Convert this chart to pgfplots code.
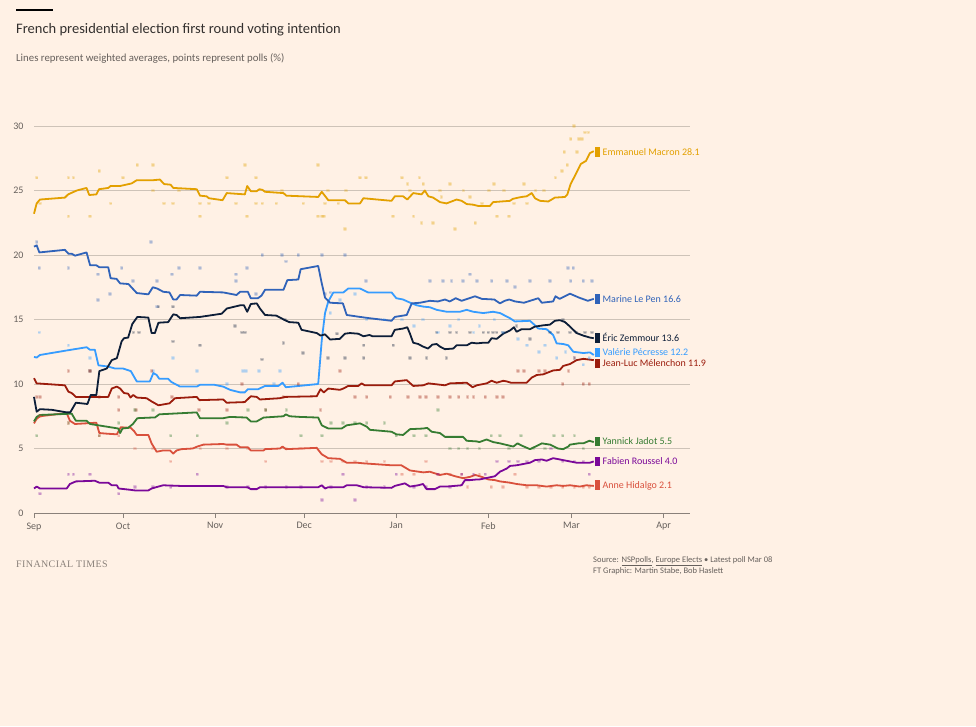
\documentclass[border=0pt]{standalone}
\usepackage{fontspec}
\setmainfont{Carlito}
\newfontfamily\ftserif[LetterSpace=4]{Liberation Serif}
\usepackage{pgfplots}
\pgfplotsset{compat=1.18}
\definecolor{ftbg}{HTML}{FFF1E5}
\definecolor{gridc}{HTML}{CEC3B8}
\definecolor{axisc}{HTML}{8A817A}
\definecolor{tickc}{HTML}{66605C}
\definecolor{titlec}{HTML}{33302E}
\definecolor{cmac}{HTML}{E3A000}
\definecolor{clep}{HTML}{3063B9}
\definecolor{czem}{HTML}{0D1E38}
\definecolor{cpec}{HTML}{369CFF}
\definecolor{cmel}{HTML}{9B1C0C}
\definecolor{cjad}{HTML}{367C32}
\definecolor{crou}{HTML}{7A0899}
\definecolor{chid}{HTML}{D9503C}
\newcommand{\lab}[3]{\node[anchor=base west,inner sep=0pt,yshift=-3.4pt,font=\fontsize{10}{12}\selectfont,text=#1] at (axis cs:188.9,#2) {{\color{#1}\rule[-1.3pt]{4.5pt}{9.5pt}}\hspace{3pt}#3};}
\pgfplotsset{poll/.style={only marks,mark=square*,mark size=0.9pt,opacity=0.22,mark options={draw=none}}}
\begin{document}
\begin{tikzpicture}[x=1pt,y=1pt]
\fill[ftbg] (0,0) rectangle (976,-726);
\fill[black] (16,-9.2) rectangle (53,-11);
\node[anchor=base west,inner sep=0pt,text=titlec,font=\fontsize{14.5}{17}\selectfont] at (16,-33) {French presidential election first round voting intention};
\node[anchor=base west,inner sep=0pt,text=tickc,font=\fontsize{10.8}{12}\selectfont] at (16,-61) {Lines represent weighted averages, points represent polls (\%)};
\node[anchor=base west,inner sep=0pt,text=axisc,font=\ftserif\fontsize{10}{11}\selectfont] at (16,-567) {FINANCIAL TIMES};
\node[anchor=base west,inner sep=0pt,text=tickc,font=\fontsize{8.5}{10}\selectfont] at (593,-562) {Source: \underline{NSPpolls}, \underline{Europe Elects} \textbullet{} Latest poll Mar 08};
\node[anchor=base west,inner sep=0pt,text=tickc,font=\fontsize{8.5}{10}\selectfont] at (593,-573) {FT Graphic: Martin Stabe, Bob Haslett};
\begin{axis}[at={(34pt,-513pt)},anchor=south west,scale only axis,
  width=656pt,height=387pt,xmin=0,xmax=220.9,ymin=0,ymax=30,clip=false,
  axis x line*=bottom,axis y line*=left,
  y axis line style={draw=none},
  x axis line style={draw=axisc,line width=0.8pt,-},
  ytick={0,5,10,15,20,25,30},ytick style={draw=none},
  ymajorgrids,grid style={gridc,line width=0.8pt},
  xtick={0,30,61,91,122,153,181,212},
  xticklabels={Sep,Oct,Nov,Dec,Jan,Feb,Mar,Apr},
  xtick style={draw=axisc,line width=0.8pt},
  major tick length=5pt,tick align=outside,
  tick label style={font=\fontsize{10}{12}\selectfont,text=tickc},
  /pgf/number format/assume math mode=true,
  yticklabel style={xshift=-2pt},
  xticklabel style={yshift=-1pt},
  every axis plot/.append style={line width=1.8pt,line join=round},
  ]
% ---- poll points ----
\addplot[poll,cmac] coordinates {(0.9,26)(2,24)(11.6,26)(13.3,26)(11.6,23)(18.9,23)(22,26.5)(25.8,24)(29.9,26)(34.8,27)(40,27)(40,25)(43.8,24)(46.9,24)(48.8,25)(55.9,24)(55.9,23)(59,24)(64.9,26)(68,24)(71,27)(71.8,23)(74.7,26)(74.7,24)(76.9,24)(81.6,24)(83.6,25)(90.7,24)(95.7,27)(95.7,23)(96.9,23)(97.6,23)(98,24)(99.1,25)(102.5,24)(104.7,22)(105,25)(109.8,26)(111.8,26)(120.8,23)(123.9,26)(125.8,25.5)(126.7,25)(127.8,23)(129.8,26)(131.1,25.5)(130.5,22.5)(134.4,22.5)(136.7,25)(137.2,24.5)(140,25.5)(141.8,22)(144.6,25)(146.9,24.5)(148.6,22.5)(150.9,24)(153.2,25)(154.9,25.5)(156,23)(158.3,25)(160,23)(161.7,24)(165,25.5)(166.1,24)(168.9,25)(171.7,25)(175.6,26)(177.8,26.5)(178.6,28)(179.6,27)(180.7,29)(181.8,30)(182.9,28)(183.5,29)(184.6,29)(185.6,29.5)(186.7,29.5)};
\addplot[poll,clep] coordinates {(0.9,21)(1.8,19)(11.6,19)(21.6,18.5)(21.6,16.5)(25.5,17)(29.5,19)(33.3,18)(39.4,21)(41.5,18)(41.5,16)(46.5,18.5)(48.8,19)(55.9,19)(68,18.5)(68,18)(71.8,19)(74.7,17)(76.9,20)(83.6,20)(84.8,19.5)(89,20)(96.9,20)(98,17)(99.8,17.1)(104.7,20)(111.8,18)(133.3,18)(137.8,18)(140.6,18)(144.5,18)(146.8,18.5)(149.1,18)(154.1,18)(159.2,18)(162,17.5)(167,18)(173.7,18)(179.9,19)(181.6,19)(180.7,18)(185,18)(187.8,18)};
\addplot[poll,czem] coordinates {(18.9,11)(33.5,14)(35.4,14)(41.9,16)(46.9,16)(46.9,13.3)(55.9,13)(67.7,14.5)(70,14)(71,14)(76.7,11.9)(84,13.2)(84.5,15)(90.6,12.4)(99.1,12)(102,13.9)(104.7,12)(111,13)(111,12)(121,13)(126.6,12)(132.2,12)(135.6,14)(138.9,12)(140,14)(142.3,14)(146.8,14)(151.3,14)(153,14)(154.6,14)(155.8,14)(158,14)(162.5,14.5)(167,13.5)(173.7,14)(176.5,14)(178.2,15)(180.4,14)(182.7,14)(185.5,14)(187.8,14)};
\addplot[poll,cpec] coordinates {(1.8,14)(11.6,13)(18.9,12)(40.2,11)(46.9,12)(54.8,11)(64.9,10)(70.3,11)(71.4,11)(75.8,11)(80.8,10)(82.8,11)(99.8,15.5)(103,16.5)(108,17)(112,15)(118,15)(124,15)(128,14.5)(131,15)(136,14)(140,14.5)(143,15)(148,14)(150,14.5)(155,15)(158,14)(163,13.5)(166,13)(170,12.5)(172,13)(176,12)(179,12.5)(182,12)(185,11.5)(187,12)};
\addplot[poll,cmel] coordinates {(0.9,9)(2,9)(11.6,11)(18.9,11)(22,9)(28.5,9)(28.5,8)(34.3,8)(39.6,11)(46.5,9)(55.5,8)(65,8)(70,10)(78,8)(84,9)(89,10)(96.5,8)(103,11)(108,9)(112,9)(120,9)(126,9)(130,9)(132,9)(136,9)(140,9)(143,9)(146,9)(148,9)(152,9)(156,9)(158,9)(163,11)(165,11)(170,11)(172,11)(178,10)(180,11)(182,12)(185,10)(187,10)};
\addplot[poll,cjad] coordinates {(0.9,6)(11.6,7)(22,6)(28.5,7)(34,8)(40,8)(46,6)(55,6)(65,7)(72,8)(78,8)(85,8)(90,6)(97,6)(100,7)(104,7)(108,7)(112,7)(118,7)(122,6)(128,6)(132,6)(136,8)(140,5)(143,5)(146,5)(150,5)(154,6)(157,6)(160,5)(164,6)(168,5)(172,5)(175,6)(178,6)(182,6)(185,5)};
\addplot[poll,chid] coordinates {(2,7.5)(11.6,7)(22,6)(28.5,6)(34,5)(40,5)(46,4)(56,5)(65,5)(72,5)(78,4)(85,5)(90,5)(97,4)(100,4)(104,4)(108,4)(112,4)(118,4)(124,3)(128,3)(132,4)(136,3)(140,3)(144,3)(146,2)(150,3)(154,2)(158,2)(162,3)(166,2)(170,2)(174,2)(178,2)(182,2)(185,2)(187,2)};
\addplot[poll,crou] coordinates {(2,1.5)(11.6,3)(13.3,3)(18.9,3)(28.5,1.5)(34,2)(40,2)(46,2)(55,3)(65,2)(72,2)(78,2)(85,2)(90,2)(96.9,1)(100,2)(104,3)(108,1)(112,2)(118,2)(122,3)(128,2)(132,2)(136,3)(140,2)(144,3)(148,3)(152,3)(156,4)(160,4)(163,4)(166,4)(170,4)(174,5)(178,4)(182,4)(185,4)(187,3)};
% ---- averages ----
\addplot[chid] coordinates {(0,6.95)(0.9,7.3)(2,7.5)(11,7.75)(12.1,7.15)(13.8,6.9)(21,7.0)(22,6.2)(24.5,6.15)(27.9,6.1)(29.2,6.65)(32.6,6.6)(33.7,6.35)(34.6,6.05)(38.5,6.05)(39.6,5.4)(41.3,4.75)(43.5,4.85)(45.8,4.85)(46.9,4.6)(48,4.85)(49.7,4.95)(53.4,5.0)(55,5.15)(57,5.3)(63.7,5.35)(64.9,5.3)(68.2,5.3)(69.4,5.1)(72,5.1)(73,4.85)(77.3,4.85)(77.8,4.95)(82.8,5.0)(83.7,5.15)(84.8,4.95)(95.2,5.05)(96.9,4.55)(99.1,4.25)(103,4.2)(105.3,3.9)(108.7,3.9)(111,3.85)(120.4,3.7)(123.7,3.7)(126.6,3.3)(131.1,3.15)(133.3,3.2)(136.7,2.95)(139,3.05)(141.8,2.85)(144.5,2.7)(146.8,2.8)(148.6,2.95)(150.8,2.8)(153,2.6)(155.2,2.55)(156.9,2.45)(160.3,2.35)(162.5,2.25)(165.9,2.15)(169.3,2.15)(172.6,2.05)(176,2.15)(178.2,2.1)(180.5,2.15)(183.8,2.05)(186,2.15)(188.5,2.1)};
\addplot[crou] coordinates {(0,1.9)(0.9,2.05)(2,1.9)(11,1.9)(12.1,2.25)(14.1,2.45)(20.5,2.5)(22,2.35)(25,2.35)(26.2,2.15)(27.9,2.15)(28.5,1.9)(32.4,1.8)(34,1.75)(38.5,1.75)(39.6,1.9)(41.9,2.05)(43.5,2.15)(49.2,2.1)(55.9,2.1)(63.7,2.1)(64.9,2.0)(71.9,2.0)(73,1.85)(75,1.85)(76.1,2.0)(95.7,2.0)(96.9,2.15)(98,1.9)(99.1,2.0)(104.2,2.0)(105.3,2.15)(108.7,2.15)(111,2.0)(120.4,1.95)(121.5,2.1)(124.9,2.3)(126.6,2.05)(129.4,2.15)(131,2.25)(132.2,1.85)(135,1.85)(136.7,2.05)(139,2.05)(144,2.15)(145.1,2.55)(146.8,2.55)(149.1,2.6)(150,2.6)(155.2,2.85)(156.9,3.2)(159.2,3.45)(160.3,3.65)(162.5,3.7)(164.8,3.8)(167,3.9)(168.7,4.1)(171,4.15)(172.6,4.05)(174.8,4.25)(177.1,4.15)(179.3,4.05)(182.7,3.9)(185,3.9)(187.2,3.9)(188.5,4.0)};
\addplot[cjad] coordinates {(0,7.1)(0.9,7.45)(2,7.6)(12.7,7.7)(14.1,7.15)(17.7,7.15)(18.9,6.9)(28.4,6.55)(29,6.2)(29.8,6.55)(31.7,6.6)(33.3,6.9)(34.8,7.35)(39.6,7.4)(40.7,7.4)(42.2,7.65)(54.8,7.8)(55.9,7.35)(63.7,7.35)(66,7.45)(71.6,7.4)(73,7.1)(75,7.1)(77.3,7.4)(84,7.5)(84.8,7.65)(86.1,7.5)(89.5,7.45)(95.7,7.4)(96.9,6.8)(99.1,6.55)(103.6,6.55)(105.3,6.8)(109.8,6.95)(112,6.7)(113.1,6.45)(120.4,6.3)(122,6.1)(124.3,6.05)(126.6,6.5)(131.1,6.55)(132.4,6.6)(133.9,6.3)(136.7,6.2)(138.4,5.9)(144.5,5.9)(145.7,5.6)(149.1,5.55)(150,5.5)(152.4,5.7)(154.6,5.5)(156.9,5.4)(161.4,5.15)(162.8,5.4)(164.5,5.2)(167,4.95)(169.3,5.2)(171,5.4)(173.8,5.3)(176.4,5.0)(178.2,4.95)(179.9,5.15)(180.5,5.3)(183.3,5.4)(185,5.4)(187,5.6)(188.5,5.5)};
\addplot[cmel] coordinates {(0,10.45)(0.9,10.05)(10.4,9.9)(11.6,9.4)(12.7,9.3)(14.1,9.0)(21,9.0)(25,9.0)(26.2,9.65)(27.9,9.8)(29,9.65)(30.3,9.3)(31.7,9.25)(32.5,8.95)(33.4,9.15)(34.6,8.95)(37.9,8.9)(39.6,8.65)(41.9,8.35)(45.6,8.5)(47.5,8.9)(54.8,9.0)(55.7,8.75)(63.7,8.8)(64.9,8.55)(71,8.6)(73,9.05)(75,9.0)(76.1,8.8)(82.8,8.9)(84.5,9.0)(95.2,9.05)(96.5,9.6)(97.6,9.35)(99.1,9.65)(103,9.55)(104.2,9.65)(105.8,9.85)(109.2,9.85)(110.3,10.05)(111.4,9.9)(120.4,9.9)(121.5,10.2)(125.5,10.3)(127.7,9.85)(131.1,9.9)(132.8,10.05)(138.4,9.9)(140.1,10.05)(145.7,10.1)(147.7,9.75)(149.1,9.9)(152.4,10.05)(154.1,10.25)(155.8,10.1)(158,10.25)(159.2,10.2)(160.6,10.1)(163.5,10.1)(165.9,10.1)(167.6,10.5)(169.3,10.7)(171.5,10.75)(174.8,11.05)(177.1,11.1)(178.2,11.4)(180.5,11.55)(182.7,11.85)(185,11.95)(188.5,11.85)};
\addplot[cpec] coordinates {(0,12.1)(0.9,12.05)(2,12.25)(11,12.6)(17.7,12.85)(18.9,12.65)(20.5,12.65)(21.7,11.45)(25,11.35)(27.3,11.2)(30,11.2)(32.6,11.0)(34.6,10.2)(39,10.2)(40.2,10.85)(41.3,10.7)(42.2,10.4)(45.2,10.4)(46.3,10.15)(49.2,9.8)(54.8,9.8)(56,9.95)(60.5,9.95)(63.7,9.8)(66,9.55)(69.4,9.35)(71,9.35)(72,9.6)(75.5,9.6)(77.8,9.85)(82.3,9.85)(83.7,10.1)(84.8,9.75)(95.7,10.0)(96.9,13.4)(98,15.5)(99.1,16.4)(99.7,16.65)(100.8,17.1)(104.2,17.1)(105.8,17.4)(109.8,17.4)(112.5,17.1)(120.4,17.1)(122,16.65)(124.3,16.55)(125.7,16.4)(127.2,16.25)(128.9,16.1)(131.1,16.0)(133.3,15.95)(135.6,15.75)(139,15.6)(143.4,15.6)(145.7,15.75)(147.9,15.6)(151.3,15.5)(154.6,15.6)(156.9,15.5)(160.3,15.1)(161.9,14.85)(167,14.9)(168.7,14.55)(169.8,14.3)(172.6,14.25)(174.8,13.8)(176,13.15)(178.2,13.1)(179.9,13.0)(181.6,12.5)(185,12.4)(187.2,12.45)(188.5,12.25)};
\addplot[czem] coordinates {(0,9.0)(0.9,7.85)(2,8.05)(6,8.0)(11,7.8)(12.2,7.8)(14.1,8.55)(18,8.45)(19.1,9.15)(21,9.15)(22,11.0)(24.5,11.2)(26.2,11.85)(27.9,12.0)(29.5,13.3)(30.3,13.55)(31.7,13.6)(33.1,14.65)(34.8,15.2)(38.5,15.15)(39.6,13.95)(40.7,13.95)(41.9,14.75)(45.2,14.8)(46.9,15.4)(48,15.35)(49.2,15.1)(55.9,15.2)(63.2,15.45)(64.9,15.85)(69.4,16.1)(70.7,16.1)(71.8,15.6)(73,16.2)(75,16.25)(76.1,15.85)(77.8,15.35)(81.6,15.3)(84.5,14.95)(85.9,14.8)(89,14.75)(90.1,14.2)(95.2,13.95)(96.5,13.75)(98,13.85)(99.7,13.45)(103,13.5)(104.7,13.9)(106.4,13.95)(109.2,13.9)(110.9,13.7)(113,13.8)(114,13.7)(120.4,13.7)(121.5,14.2)(124.3,14.3)(125.7,14.4)(126.6,13.9)(127.7,13.2)(129.4,13.1)(131,12.9)(132.7,12.75)(134.1,13.05)(135.6,13.1)(136.7,12.9)(138.4,12.7)(141.2,12.75)(142.3,13.0)(145.7,13.0)(147.4,13.2)(149.1,13.15)(151.3,13.2)(153,13.2)(154.1,13.55)(155.8,13.5)(158,13.9)(160.3,14.15)(161.6,14.4)(162.5,14.05)(164.2,14.25)(167,14.25)(168.7,14.45)(171.5,14.55)(173.7,14.6)(175.4,14.9)(177.1,14.95)(178.8,14.8)(180.5,14.45)(182.7,13.95)(185,13.75)(187.2,13.6)(188.5,13.55)};
\addplot[clep] coordinates {(0,20.65)(0.9,20.75)(1.8,20.2)(10.4,20.4)(11.6,20.1)(12.7,20.1)(13.8,19.95)(17.7,20.2)(18.9,19.2)(21,19.2)(22,19.05)(25,19.05)(25.8,18.2)(27.8,18.15)(29,17.8)(31.8,17.75)(34.6,17.05)(38.5,16.95)(40,17.5)(41.5,17.4)(43.5,17.15)(45.6,17.1)(46.9,16.55)(48,16.55)(49.2,16.9)(54.8,16.85)(55.9,17.15)(63.7,17.1)(68.2,16.9)(69.4,17.15)(72,17.15)(73,16.65)(75.4,16.65)(76.6,16.85)(77.8,17.3)(84,17.3)(85.3,18.05)(89,18.1)(89.8,18.9)(95.7,19.15)(96.9,17.8)(98,16.7)(99.7,16.3)(104,16.25)(105.3,15.35)(109.8,15.2)(113,15.1)(120.4,14.9)(121.5,15.2)(125.5,15.35)(127.2,16.25)(130,16.3)(133.3,16.45)(136,16.4)(138.4,16.55)(140,16.4)(142,16.65)(144,16.45)(148.5,16.8)(150.8,16.6)(155,16.55)(156.9,16.25)(158.5,16.45)(160,16.55)(162,16.4)(165,16.3)(169.8,16.65)(171,16.3)(174.8,16.4)(175.6,16.8)(177,16.6)(180.5,17.0)(183.5,16.7)(186.5,16.45)(188.5,16.6)};
\addplot[cmac] coordinates {(0,23.2)(0.9,24.0)(2,24.3)(10.4,24.45)(11.5,24.7)(14.4,25.0)(17.7,25.2)(18.6,24.65)(21,24.7)(21.9,25.1)(25,25.2)(25.8,25.35)(29,25.35)(32.9,25.55)(34.6,25.8)(40.2,25.8)(42.4,25.85)(43.8,25.5)(46,25.45)(46.9,25.2)(54.8,25.1)(55.9,24.6)(58.1,24.55)(58.9,24.4)(63.5,24.25)(64.9,24.8)(71,24.7)(71.8,25.35)(73,24.95)(75,24.95)(75.9,25.1)(76.9,25.05)(77.8,24.9)(84,24.8)(85,24.6)(95.7,24.5)(96.9,24.9)(99.1,24.25)(104.7,24.25)(105.8,24.0)(109.8,24.0)(110.9,24.4)(120.4,24.2)(121.5,24.55)(124.3,24.55)(125.7,24.3)(127.7,24.8)(130.5,24.7)(131.6,25.0)(132.8,24.55)(134.4,24.45)(136.7,24.1)(138.9,24.0)(142.3,24.3)(144,24.2)(145.7,23.95)(147.9,23.9)(149.6,23.8)(153.5,23.8)(154.6,24.1)(160.3,24.2)(161.2,24.35)(163.1,24.45)(164.2,24.5)(165.9,24.55)(167.6,24.8)(168.7,24.4)(170.4,24.2)(173.2,24.15)(175.4,24.45)(178.8,24.5)(179.6,24.7)(180.7,25.5)(182.5,26.3)(184.1,27.05)(185.9,27.3)(187.2,27.9)(188.5,28.05)};
% ---- labels ----
\lab{cmac}{28.0}{Emmanuel Macron 28.1}
\lab{clep}{16.6}{Marine Le Pen 16.6}
\lab{czem}{13.55}{Éric Zemmour 13.6}
\lab{cpec}{12.45}{Valérie Pécresse 12.2}
\lab{cmel}{11.6}{Jean-Luc Mélenchon 11.9}
\lab{cjad}{5.55}{Yannick Jadot 5.5}
\lab{crou}{4.0}{Fabien Roussel 4.0}
\lab{chid}{2.15}{Anne Hidalgo 2.1}
\end{axis}
\end{tikzpicture}
\end{document}
